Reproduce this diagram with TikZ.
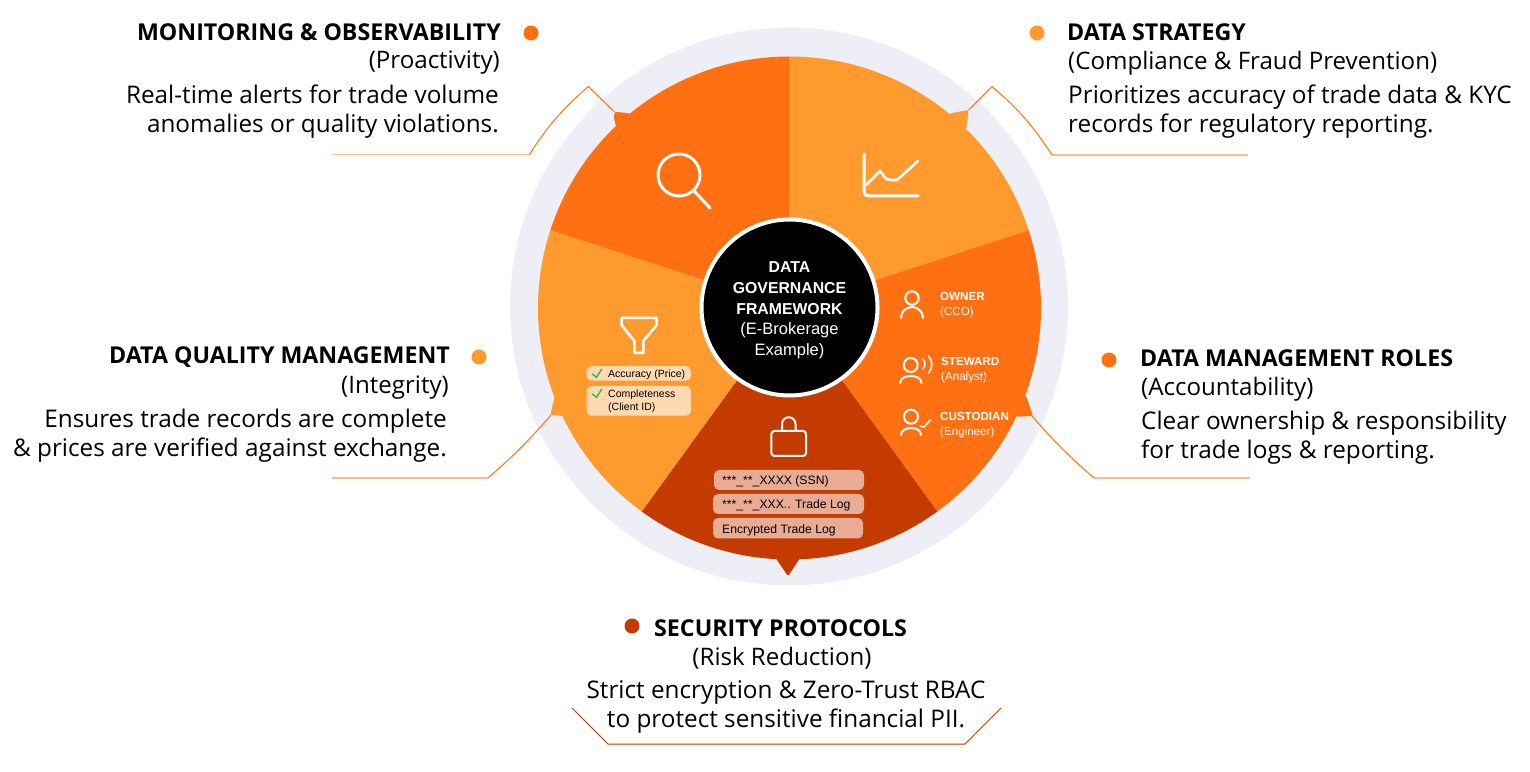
\documentclass[tikz,border=0pt]{standalone}
\usepackage{fontspec}
\setmainfont{Open Sans}
\newfontfamily\wheelfont{Liberation Sans}
\usetikzlibrary{positioning,calc}
\definecolor{ringgrey}{HTML}{EEEFF6}
\definecolor{darkorange}{HTML}{FF7012}
\definecolor{lightorange}{HTML}{FF9A2E}
\definecolor{deeporange}{HTML}{C43B00}
\definecolor{paleorange}{HTML}{FFB98C}
\definecolor{pillcream}{HTML}{FFD9B0}
\definecolor{pillsalmon}{HTML}{E8AB94}
\definecolor{tickgreen}{HTML}{3BB54A}
\tikzset{heading/.style={inner sep=0pt,font=\fontsize{23.2}{28}\selectfont\bfseries}}
\tikzset{subline/.style={inner sep=0pt,font=\fontsize{24.1}{29}\selectfont}}
\tikzset{desc/.style={inner sep=0pt,font=\fontsize{24.3}{29}\selectfont}}
\tikzset{dot/.style={circle,inner sep=0pt,minimum size=15pt}}
\tikzset{leader/.style={line width=1pt,darkorange}}
\tikzset{stub/.style={line width=1.4pt,paleorange}}
\tikzset{icon/.style={white,line width=3pt,line cap=round,line join=round}}
\tikzset{roleicon/.style={white,line width=2pt,line cap=round,line join=round}}
\tikzset{role/.style={inner sep=0pt,anchor=west,align=left,white,font=\wheelfont\fontsize{11.6}{15}\selectfont}}
\tikzset{centre/.style={inner sep=0pt,white,align=center,font=\wheelfont\fontsize{16.5}{20.7}\selectfont}}
\tikzset{pill/.style={rounded corners=5pt,inner sep=0pt}}
\tikzset{pilltext/.style={inner sep=0pt,anchor=west,align=left,black,font=\wheelfont\fontsize{12.2}{15}\selectfont}}
\tikzset{tick/.style={tickgreen,line width=1.4pt,line cap=round}}
\newcommand{\boldline}[1]{{\fontsize{15.8}{20.7}\selectfont\bfseries #1}}

\begin{document}
\begin{tikzpicture}[x=1pt,y=1pt]

	\useasboundingbox (0,0) rectangle (1530,771);

	%% Wheel
	\coordinate (hub) at (789.5,463);
	\fill[ringgrey] (789,464.5) circle (279);
	\foreach \from/\to/\col in {90/162/darkorange,18/90/lightorange,-54/18/darkorange,-126/-54/deeporange,162/234/lightorange}
		\fill[\col] (hub) -- ++(\from:251.5) arc (\from:\to:251.5) -- cycle;

	%% Pointers on the rim
	\fill[darkorange,rounded corners=1pt] (629.5,657.7) -- (614.8,659.3) -- (613.8,654) -- (616,644.3) -- (640,640) -- cycle;
	\fill[lightorange,rounded corners=1pt] (950.4,657.7) -- (968.7,661) -- (966.3,642.7) -- (940,640) -- cycle;
	\fill[darkorange,rounded corners=1pt] (1026,375) -- (1033,355) -- (1017.6,354.3) -- (1005,375) -- cycle;
	\fill[lightorange,rounded corners=1pt] (554.5,373.7) -- (550.3,356) -- (563,355) -- (575,375) -- cycle;
	\fill[deeporange,rounded corners=2pt] (775,214) -- (788,194.7) -- (800.6,214) -- (788,225) -- cycle;

	%% Middle of the wheel
	\node[circle,fill=black,draw=white,line width=4pt,minimum size=176pt,inner sep=0pt] (middle) at (789.5,463.5) {};
	\node[centre] (middletext) at (789.5,460.5) {\boldline{DATA}\\\boldline{GOVERNANCE}\\\boldline{FRAMEWORK}\\(E-Brokerage\\Example)};

	%% Monitoring
	\draw[icon] (679,596) circle (21);
	\draw[icon] (694,580) -- (710,563);
	\node[dot,fill=darkorange] (monitordot) at (531,738) {};
	\node[heading,anchor=east] (monitorhead) at (501,739) {MONITORING \& OBSERVABILITY};
	\node[subline,anchor=east] (monitorsub) at (500,708) {(Proactivity)};
	\node[desc,anchor=east,align=right] (monitordesc) at (499,659.5) {Real-time alerts for trade volume\\anomalies or quality violations.};
	\coordinate (monitorA) at (332,616.3);
	\coordinate (monitorB) at (529.3,616.3);
	\coordinate (monitorC) at (588.3,684.5);
	\coordinate (monitorD) at (614,659.5);
	\draw[stub] (monitorA) -- (monitorB);
	\draw[leader] (monitorB) to[bend left=8] (monitorC) -- (monitorD);

	%% Strategy
	\draw[icon] (864,617) -- (864,579) to[out=-90,in=180] (869,575) -- (918,575);
	\draw[icon,line width=2.6pt] (866,586) -- (880,600) to[out=-45,in=180] (890,591) -- (897,591) -- (918,610);
	\node[dot,fill=lightorange] (strategydot) at (1037,738) {};
	\node[heading,anchor=west] (strategyhead) at (1067,739) {DATA STRATEGY};
	\node[subline,anchor=west] (strategysub) at (1068,708) {(Compliance \& Fraud Prevention)};
	\node[desc,anchor=west,align=left] (strategydesc) at (1068,659.5) {Prioritizes accuracy of trade data \& KYC\\records for regulatory reporting.};
	\coordinate (strategyA) at (1248,616);
	\coordinate (strategyB) at (1052,616);
	\coordinate (strategyC) at (992,684.5);
	\coordinate (strategyD) at (968.7,661);
	\draw[stub] (strategyA) -- (strategyB);
	\draw[leader] (strategyB) to[bend right=8] (strategyC) -- (strategyD);

	%% Roles
	\draw[roleicon] (912,473) circle (6.7);
	\draw[roleicon] (901,453) to[out=90,in=180] (912,464) to[out=0,in=90] (923,453);
	\node[role] (ownerrole) at (940,465.5) {\textbf{OWNER}\\(CCO)};
	\draw[roleicon] (910.7,406) circle (7);
	\draw[roleicon] (900,388) to[out=90,in=180] (910.7,395) to[out=0,in=90] (921.5,388);
	\draw[roleicon,line width=1.6pt] (923,412) to[bend left=40] (923,402);
	\draw[roleicon,line width=1.6pt] (928.6,415) to[bend left=40] (928.6,398);
	\node[role] (stewardrole) at (941,400.5) {\textbf{STEWARD}\\(Analyst)};
	\draw[roleicon] (911,354.3) circle (7);
	\draw[roleicon] (901,336) to[out=90,in=180] (911,343) to[out=0,in=90] (921,336);
	\draw[roleicon,line width=1.6pt] (920,345) -- (924,344) -- (930.5,351);
	\node[role] (custodianrole) at (940,345.5) {\textbf{CUSTODIAN}\\(Engineer)};
	\node[dot,fill=darkorange] (rolesdot) at (1109,411) {};
	\node[heading,anchor=west] (roleshead) at (1140,413) {DATA MANAGEMENT ROLES};
	\node[subline,anchor=west] (rolessub) at (1141,382) {(Accountability)};
	\node[desc,anchor=west,align=left] (rolesdesc) at (1141,333) {Clear ownership \& responsibility\\for trade logs \& reporting.};
	\coordinate (rolesA) at (1250,293);
	\coordinate (rolesB) at (1094,293);
	\coordinate (rolesC) at (1032,355);
	\draw[stub] (rolesA) -- (rolesB);
	\draw[leader] (rolesB) to[bend left=4] (rolesC);

	%% Security
	\draw[roleicon,rounded corners=3pt] (771.4,315) rectangle (806,340);
	\draw[roleicon] (782,340) -- (782,347) arc (180:0:6.75) -- (795.5,340);
	\fill[pillsalmon,pill] (714,281) rectangle (864,301);
	\fill[pillsalmon,pill] (713,257) rectangle (864,277);
	\fill[pillsalmon,pill] (713,232.5) rectangle (863,253);
	\node[pilltext] (ssnline) at (722,289.5) {***\_**\_XXXX (SSN)};
	\node[pilltext] (logline) at (722,265.5) {***\_**\_XXX.. Trade Log};
	\node[pilltext] (encline) at (722,241) {Encrypted Trade Log};
	\node[dot,fill=deeporange] (securitydot) at (632,145) {};
	\node[heading,anchor=west] (securityhead) at (654,143) {SECURITY PROTOCOLS};
	\node[subline] (securitysub) at (782,113) {(Risk Reduction)};
	\node[desc,align=center] (securitydesc) at (786,63.5) {Strict encryption \& Zero-Trust RBAC\\to protect sensitive financial PII.};
	\coordinate (securityA) at (572,63);
	\coordinate (securityB) at (608,27);
	\coordinate (securityC) at (965,27);
	\coordinate (securityD) at (1001,63);
	\draw[deeporange,line width=1pt] (securityA) -- (securityB) -- (securityC) -- (securityD);

	%% Quality
	\draw[roleicon,line width=2.5pt] (621.6,453) -- (656.7,453) -- (656.7,446) -- (643.3,430) -- (643.3,418) -- (634.3,418) -- (634.3,430) -- (621.6,446) -- cycle;
	\fill[pillcream,pill] (586.5,390.3) rectangle (691,405);
	\fill[pillcream,pill] (586.5,355.3) rectangle (691,385);
	\draw[tick] (592.4,397) -- (596.5,393.7) -- (601.7,401.7);
	\draw[tick] (592.4,377) -- (596.5,373.7) -- (601.7,381.7);
	\node[pilltext,font=\wheelfont\fontsize{10.5}{12.8}\selectfont] (accuracyline) at (608,396.5) {Accuracy (Price)};
	\node[pilltext,font=\wheelfont\fontsize{10.5}{12.8}\selectfont] (completeline) at (608,370) {Completeness\\(Client ID)};
	\node[dot,fill=lightorange] (qualitydot) at (479,414) {};
	\node[heading,anchor=east] (qualityhead) at (450,414) {DATA QUALITY MANAGEMENT};
	\node[subline,anchor=east] (qualitysub) at (449,383) {(Integrity)};
	\node[desc,anchor=east,align=right] (qualitydesc) at (447,335) {Ensures trade records are complete\\\& prices are verified against exchange.};
	\coordinate (qualityA) at (332,293);
	\coordinate (qualityB) at (488,293);
	\coordinate (qualityC) at (551,356);
	\draw[stub] (qualityA) -- (qualityB);
	\draw[leader] (qualityB) to[bend right=4] (qualityC);

\end{tikzpicture}
\end{document}
